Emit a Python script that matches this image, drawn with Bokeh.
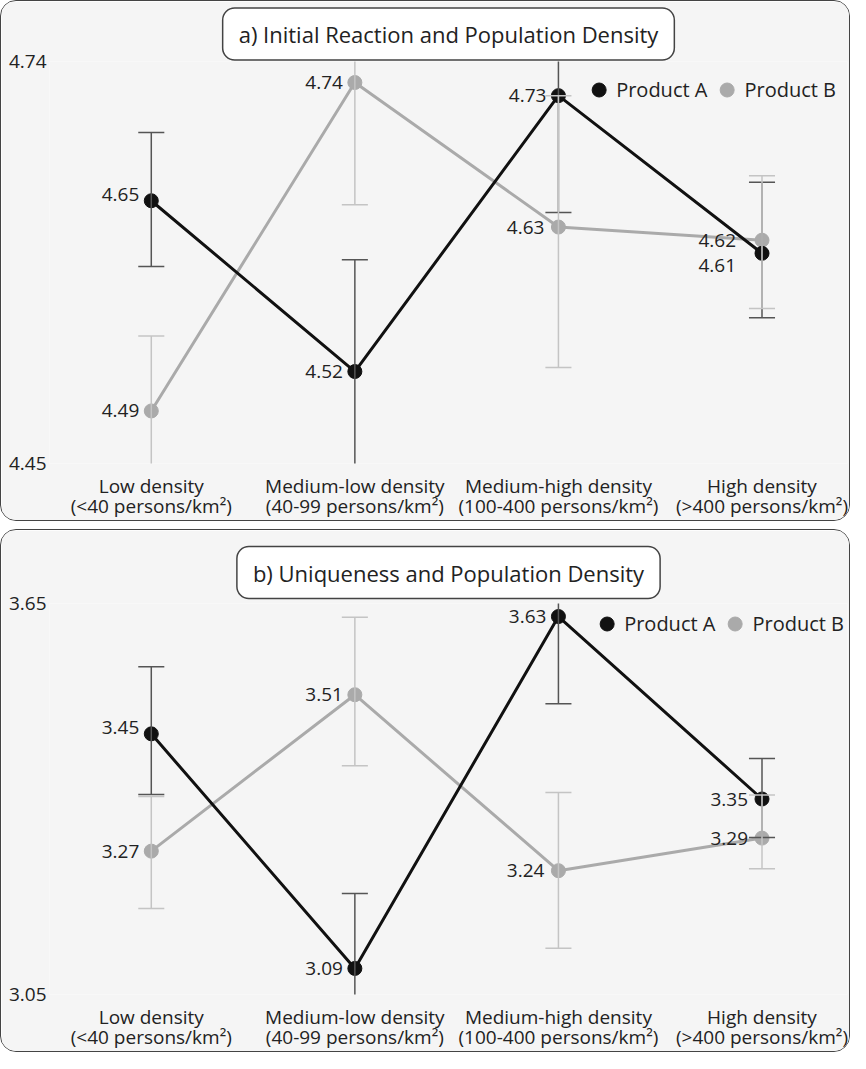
from bokeh.plotting import figure
from bokeh.models import FixedTicker, Range1d, Legend, LegendItem, ColumnDataSource, Title
from bokeh.layouts import column
from bokeh.core.properties import value
from bokeh.embed import file_html
from bokeh.resources import INLINE

# ---------------- data ----------------
categories = ["Low density\n(<40 persons/km²)",
              "Medium-low density\n(40-99 persons/km²)",
              "Medium-high density\n(100-400 persons/km²)",
              "High density\n(>400 persons/km²)"]
x_pos = [0.5, 1.5, 2.5, 3.5]
series_names = ["Product A", "Product B"]

# panel a) Initial Reaction
a_title = "a) Initial Reaction and Population Density"
a_prod_a = [4.65, 4.52, 4.73, 4.61]
a_prod_a_lo = [4.600, 4.40, 4.641, 4.561]
a_prod_a_hi = [4.702, 4.605, 4.82, 4.664]
a_prod_b = [4.49, 4.74, 4.63, 4.62]
a_prod_b_lo = [4.433, 4.647, 4.523, 4.568]
a_prod_b_hi = [4.547, 4.83, 4.730, 4.669]
a_y_ticks = [4.45, 4.756]
a_y_tick_labels = ["4.45", "4.74"]

# panel b) Uniqueness
b_title = "b) Uniqueness and Population Density"
b_prod_a = [3.45, 3.09, 3.63, 3.35]
b_prod_a_lo = [3.357, 2.98, 3.496, 3.291]
b_prod_a_hi = [3.553, 3.205, 3.76, 3.412]
b_prod_b = [3.27, 3.51, 3.24, 3.29]
b_prod_b_lo = [3.182, 3.401, 3.121, 3.243]
b_prod_b_hi = [3.354, 3.629, 3.360, 3.356]
b_y_ticks = [3.05, 3.65]
b_y_tick_labels = ["3.05", "3.65"]

FONT = "Open Sans"
COL_A = "#111111"
COL_B = "#aaaaaa"
ERR_A = "#555555"
ERR_B = "#c4c4c4"
CAP = 0.064  # half cap width in x units


def panel(title, ya, ya_lo, ya_hi, yb, yb_lo, yb_hi, ticks, tick_labels,
          height, border_top, border_bottom, title_standoff, legend_margin,
          a_dx, a_dy, b_dx, b_dy):
    p = figure(width=850, height=height, output_backend="svg", toolbar_location=None,
               x_range=Range1d(0, 3.92), y_range=Range1d(ticks[0], ticks[1]),
               min_border_left=48, min_border_right=4,
               min_border_top=border_top, min_border_bottom=border_bottom,
               background_fill_color="#f5f5f5", border_fill_color="#f5f5f5",
               outline_line_color=None,
               styles={"border": "1.5px solid #444", "border-radius": "16px",
                       "overflow": "hidden", "box-sizing": "border-box"})

    # lines
    p.line(x_pos, yb, line_color=COL_B, line_width=3)
    p.line(x_pos, ya, line_color=COL_A, line_width=3)
    rb = p.scatter(x_pos, yb, size=14, fill_color=COL_B, line_color=COL_B)
    ra = p.scatter(x_pos, ya, size=14, fill_color=COL_A, line_color=COL_A)

    # error bars
    for lo, hi, col in ((ya_lo, ya_hi, ERR_A), (yb_lo, yb_hi, ERR_B)):
        p.segment(x_pos, lo, x_pos, hi, line_color=col, line_width=1.5)
        p.segment([x - CAP for x in x_pos], lo, [x + CAP for x in x_pos], lo,
                  line_color=col, line_width=1.5)
        p.segment([x - CAP for x in x_pos], hi, [x + CAP for x in x_pos], hi,
                  line_color=col, line_width=1.5)

    # value labels
    src = ColumnDataSource(dict(
        x=x_pos + x_pos, y=ya + yb,
        t=[f"{v:.2f}" for v in ya + yb],
        dx=a_dx + b_dx, dy=a_dy + b_dy))
    p.text("x", "y", text="t", source=src, x_offset="dx", y_offset="dy",
           text_align="right", text_baseline="middle", text_color="#222222",
           text_font=value(FONT), text_font_size="19px")

    # axes
    p.xaxis.ticker = FixedTicker(ticks=x_pos)
    p.xaxis.major_label_overrides = {x: c for x, c in zip(x_pos, categories)}
    p.yaxis.ticker = FixedTicker(ticks=ticks)
    p.yaxis.major_label_overrides = {t: l for t, l in zip(ticks, tick_labels)}
    for ax in (p.xaxis, p.yaxis):
        ax.axis_line_color = None
        ax.major_tick_line_color = None
        ax.minor_tick_line_color = None
        ax.major_tick_out = 0
        ax.major_tick_in = 0
        ax.minor_tick_out = 0
        ax.minor_tick_in = 0
        ax.major_label_text_font = FONT
        ax.major_label_text_color = "#222222"
    p.xaxis.major_label_text_font_size = "19px"
    p.xaxis.major_label_text_line_height = 0.8
    p.xaxis.major_label_standoff = 9
    p.yaxis.major_label_text_font_size = "19px"
    p.yaxis.major_label_standoff = 3
    p.xgrid.grid_line_color = None
    p.ygrid.ticker = FixedTicker(ticks=ticks)
    p.ygrid.grid_line_color = "#333333"
    p.ygrid.grid_line_width = 1.5

    p.title = Title(text=title, align="center", text_font=FONT,
                    text_font_size="22px", text_font_style="normal",
                    text_color="#222222",
                    background_fill_color="white", border_line_color="#444444",
                    border_line_width=1.5, border_radius=12,
                    padding=dict(left=16, right=16, top=11, bottom=11),
                    standoff=title_standoff)

    legend = Legend(items=[LegendItem(label=series_names[0], renderers=[ra]),
                           LegendItem(label=series_names[1], renderers=[rb])],
                    orientation="horizontal", location="top_right",
                    border_line_color=None, background_fill_alpha=0,
                    label_text_font=FONT, label_text_font_size="20px",
                    label_text_color="#222222",
                    glyph_width=35, glyph_height=35, label_standoff=-13,
                    spacing=2, padding=0, margin=legend_margin)
    p.add_layout(legend)
    return p


pa = panel(a_title, a_prod_a, a_prod_a_lo, a_prod_a_hi, a_prod_b, a_prod_b_lo, a_prod_b_hi,
           a_y_ticks, a_y_tick_labels, 521, 60, 58, 3, 11,
           [-12, -12, -12, -26], [-6, 0, 0, 12], [-12, -12, -14, -26], [0, 0, 0, 0])
pb = panel(b_title, b_prod_a, b_prod_a_lo, b_prod_a_hi, b_prod_b, b_prod_b_lo, b_prod_b_hi,
           b_y_ticks, b_y_tick_labels, 523, 73, 58, 10, 3,
           [-12, -12, -12, -14], [-6, 0, 0, 0], [-12, -12, -14, -14], [0, 0, 0, 0])

layout = column(pa, pb, spacing=8)
open("out.html", "w").write(file_html(layout, INLINE))
